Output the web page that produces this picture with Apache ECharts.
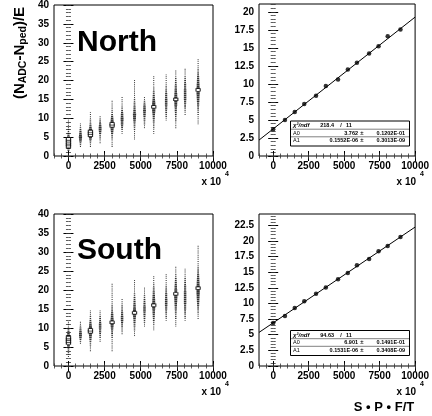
<!DOCTYPE html>
<html><head><meta charset="utf-8">
<script src="https://cdn.jsdelivr.net/npm/echarts@6/dist/echarts.min.js"></script>
<style>html,body{margin:0;padding:0;background:#fff}#c{width:432px;height:416px}</style>
</head><body><div id="c"></div><script>
// ---- data ----
const xPos = [0, 830, 1520, 2190, 3020, 3710, 4570, 5260, 5900, 6760, 7425, 8070, 8970];
const northMean = [3.70, 4.99, 6.10, 7.21, 8.36, 9.70, 10.62, 12.01, 12.93, 14.23, 15.24, 16.63, 17.55];
const southMean = [6.88, 8.00, 9.27, 10.34, 11.57, 12.53, 13.86, 14.87, 16.10, 17.11, 18.34, 19.19, 20.63];
// 2D histogram columns: y of first 0.5-wide bin, then box level (1-9) per bin
const northStart = [0.5, 2.5, 2.5, 3.5, 2.5, 6, 4.5, 7.5, 6, 9.5, 7.5, 11, 8.5];
const northDens = [
  "1135899986432211111",
  "1235676543211",
  "1123578887543221111",
  "112234566543211",
  "1111223456788765432211111",
  "11234556655432211111",
  "11111223345667554433221111111111",
  "11223345565543211",
  "1112223344567787765443322111111",
  "1122334455554443322111111",
  "1111222334456678766554433221111",
  "1122334455555544433221111",
  "11111222334455667787665544332211111"
];
const southStart = [2.5, 6, 4, 6.5, 4, 8.5, 8, 10.5, 9.5, 12, 10.5, 12, 12.5];
const southDens = [
  "1122356899875432111",
  "123566543211",
  "1112234567887654322111",
  "11223445554332111",
  "111111122334567876554332211111111111",
  "1122334555443322111",
  "111223344567876554433221111111",
  "112233445554433221111",
  "11122334455678766554433221111",
  "1122334455554443322111111",
  "11112223344556677866554433221111",
  "1122334445555555444332211111",
  "111223344556677787665544332211111111111"
];
// fit results shown in the stat boxes
const northChi2 = "218.4", northNdf = "11";
const northA0 = 3.762, northA0Err = "0.1202E-01";
const northA1 = 0.1552E-06, northA1Txt = "0.1552E-06", northA1Err = "0.3013E-09";
const southChi2 = "94.63", southNdf = "11";
const southA0 = 6.901, southA0Err = "0.1491E-01";
const southA1 = 0.1531E-06, southA1Txt = "0.1531E-06", southA1Err = "0.3408E-09";
const xScale = 1e4;   // axis unit is x 10^4
const xMajor = [0, 2500, 5000, 7500, 10000];
const yMajorLeft = [0, 5, 10, 15, 20, 25, 30, 35, 40];
const yMajorTR = [0, 2.5, 5, 7.5, 10, 12.5, 15, 17.5, 20];
const yMajorBR = [0, 2.5, 5, 7.5, 10, 12.5, 15, 17.5, 20, 22.5];

// ---- layout ----
const FONT = '"Liberation Sans", Arial, Helvetica, sans-serif';
const X_MIN = -1000, X_MAX = 10000;
const gridBoxes = [
  {left: 54, top: 4}, {left: 259, top: 4}, {left: 54, top: 214}, {left: 259, top: 214}
];
const yRanges = [[0, 40], [0, 21.1], [0, 40], [0, 24.3]];
const yMajors = [yMajorLeft, yMajorTR, yMajorLeft, yMajorBR];
const yMinorStep = [1, 0.5, 1, 0.5];

function steps(a, b, s) { const o = []; for (let v = a; v <= b + 1e-9; v += s) o.push(Math.round(v * 1000) / 1000); return o; }
const xMinor = steps(X_MIN, X_MAX, 500);

const grid = gridBoxes.map(g => ({left: g.left, top: g.top, width: 159, height: 152, show: true,
  borderColor: '#000', borderWidth: 1, backgroundColor: 'transparent', containLabel: false}));

function makeAxes(g, positions, min, max, major, minor) {
  const base = {type: 'value', gridIndex: g, min: min, max: max, axisLine: {show: false},
    splitLine: {show: false}, axisPointer: {show: false}};
  const out = [];
  positions.forEach((p, pi) => {
    out.push(Object.assign({}, base, {position: p,
      axisTick: {show: true, inside: true, length: 5, customValues: major, lineStyle: {color: '#000', width: 1}},
      axisLabel: {show: pi === 0, customValues: major, formatter: v => String(v), fontFamily: FONT,
        fontWeight: 'bold', fontSize: 10, color: '#000', margin: 5}}));
    out.push(Object.assign({}, base, {position: p,
      axisTick: {show: true, inside: true, length: 2.5, customValues: minor, lineStyle: {color: '#333', width: 0.8}},
      axisLabel: {show: false}}));
  });
  return out;
}
const xAxis = [], yAxis = [];
for (let g = 0; g < 4; g++) {
  xAxis.push(...makeAxes(g, ['bottom', 'top'], X_MIN, X_MAX, xMajor, xMinor));
  yAxis.push(...makeAxes(g, ['left', 'right'], yRanges[g][0], yRanges[g][1], yMajors[g], steps(0, yRanges[g][1], yMinorStep[g])));
}

function histData(starts, dens) {
  const out = [];
  dens.forEach((s, i) => {
    for (let k = 0; k < s.length; k++) {
      const d = +s[k];
      const item = {value: [xPos[i], starts[i] + 0.5 * k, d]};
      if (d >= 8) item.itemStyle = {color: '#fff', borderColor: '#000', borderWidth: 0.9};
      out.push(item);
    }
  });
  return out;
}
function boxSeries(g, data) {
  return {type: 'scatter', xAxisIndex: g * 4, yAxisIndex: g * 4, data: data, symbol: 'rect',
    symbolSize: v => v[2] >= 8 ? [4.2, 2.6] : [0.7 + v[2] * 0.36, 0.75 + v[2] * 0.15], silent: true,
    itemStyle: {color: '#000', borderWidth: 0}};
}
function pointSeries(g, ys) {
  return {type: 'scatter', xAxisIndex: g * 4, yAxisIndex: g * 4, data: xPos.map((x, i) => [x, ys[i]]),
    symbol: 'circle', symbolSize: 4.5, silent: true, itemStyle: {color: '#000'}};
}
function fitSeries(g, a0, a1) {
  return {type: 'line', xAxisIndex: g * 4, yAxisIndex: g * 4, showSymbol: false, silent: true,
    data: [X_MIN, X_MAX].map(x => [x, a0 + a1 * xScale * x]), lineStyle: {color: '#000', width: 1}};
}

const series = [
  boxSeries(0, histData(northStart, northDens)),
  pointSeries(1, northMean), fitSeries(1, northA0, northA1),
  boxSeries(2, histData(southStart, southDens)),
  pointSeries(3, southMean), fitSeries(3, southA0, southA1)
];

function txt(x, y, text, size, extra) {
  return {type: 'text', x: x, y: y, silent: true, style: Object.assign({text: text, fontFamily: FONT,
    fontSize: size, fontWeight: 'bold', fill: '#000', align: 'left', verticalAlign: 'middle'}, extra || {})};
}
function statBox(top, chi2, ndf, a0, a0e, a1, a1e) {
  return [
    {type: 'rect', silent: true, shape: {x: 290.5, y: top + 0.5, width: 119, height: 25}, style: {fill: '#fff', stroke: '#000', lineWidth: 1}},
    {type: 'line', silent: true, shape: {x1: 291, y1: top + 8.7, x2: 410, y2: top + 8.7}, style: {stroke: '#000', lineWidth: 0.5}},
    {type: 'line', silent: true, shape: {x1: 291, y1: top + 16.3, x2: 410, y2: top + 16.3}, style: {stroke: '#000', lineWidth: 0.5}},
    txt(293, top + 5, 'χ²/ndf', 6, {fontStyle: 'italic'}),
    txt(334, top + 5, chi2, 5.5, {align: 'right'}),
    txt(341, top + 5, '/', 5.5, {align: 'center'}),
    txt(346, top + 5, ndf, 5.5),
    txt(293, top + 12.6, 'A0', 5.5, {fontWeight: 'normal'}),
    txt(358, top + 12.6, a0, 5.5, {align: 'right'}),
    txt(362, top + 12.6, '±', 6, {align: 'center'}),
    txt(405, top + 12.6, a0e, 5.5, {align: 'right'}),
    txt(293, top + 20, 'A1', 5.5, {fontWeight: 'normal'}),
    txt(358, top + 20, a1, 5.5, {align: 'right'}),
    txt(362, top + 20, '±', 6, {align: 'center'}),
    txt(405, top + 20, a1e, 5.5, {align: 'right'})
  ];
}

const graphic = [
  {type: 'text', x: 20, y: 53, rotation: Math.PI / 2, silent: true, style: {
    text: '{a|(N}{s|ADC}{a|-N}{s|ped}{a|)/E}', align: 'center', verticalAlign: 'middle',
    rich: {a: {fontFamily: FONT, fontSize: 15, fontWeight: 'bold', fill: '#000', lineHeight: 18},
           s: {fontFamily: FONT, fontSize: 10.5, fontWeight: 'bold', fill: '#000', lineHeight: 10, verticalAlign: 'bottom'}}}},
  txt(77, 42.5, 'North', 30),
  txt(77, 251, 'South', 30),
  txt(221, 182, 'x 10', 10, {align: 'right'}), txt(225, 174.5, '4', 7),
  txt(416, 182, 'x 10', 10, {align: 'right'}), txt(420, 174.5, '4', 7),
  txt(221, 392, 'x 10', 10, {align: 'right'}), txt(225, 384.5, '4', 7),
  txt(416, 392, 'x 10', 10, {align: 'right'}), txt(420, 384.5, '4', 7),
  txt(384, 407, 'S • P • F/T', 13, {align: 'center'}),
  ...statBox(120.5, northChi2, northNdf, northA0.toFixed(3), northA0Err, northA1Txt, northA1Err),
  ...statBox(330, southChi2, southNdf, southA0.toFixed(3), southA0Err, southA1Txt, southA1Err)
];

const chart = echarts.init(document.getElementById('c'), null, {renderer: 'canvas'});
chart.setOption({animation: false, backgroundColor: '#fff', grid: grid, xAxis: xAxis, yAxis: yAxis,
  series: series, graphic: graphic, tooltip: {show: false}});
</script></body></html>
